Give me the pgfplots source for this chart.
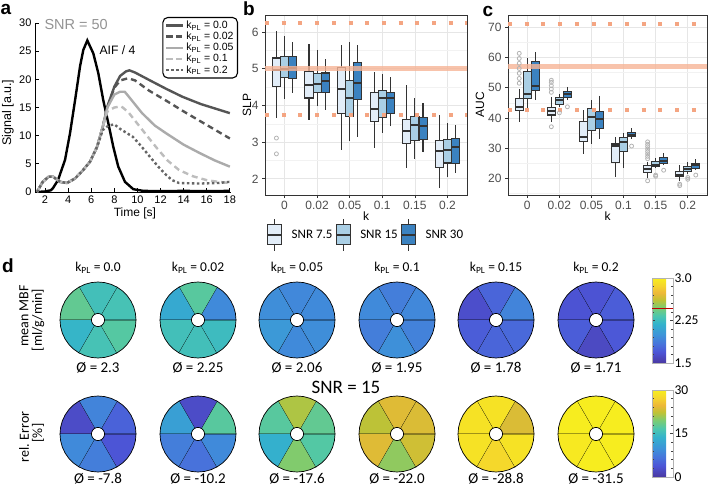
\documentclass[border=0pt]{standalone}
\usepackage{fontspec}
\setmainfont{Liberation Sans}
\newfontfamily\carl{Carlito}
\usepackage{pgfplots}
\usepackage{pgfplotstable}
\pgfplotsset{compat=1.18}
\usepgfplotslibrary{statistics}

\newcommand\fsz[1]{\fontsize{#1}{#1}\selectfont}

\definecolor{boxedge}{HTML}{333333}
\definecolor{tickgray}{HTML}{4D4D4D}
\definecolor{gridmaj}{HTML}{E6E6E6}
\definecolor{gridmin}{HTML}{F2F2F2}
\definecolor{snrA}{HTML}{E2EDF8}
\definecolor{snrB}{HTML}{AACFE5}
\definecolor{snrC}{HTML}{3B82C0}
\definecolor{orangeS}{HTML}{F6B496}
\definecolor{orangeD}{HTML}{F4A582}
\definecolor{outl}{HTML}{B3B3B3}
\definecolor{k00}{HTML}{555555}
\definecolor{k02}{HTML}{555555}
\definecolor{k05}{HTML}{ABABAB}
\definecolor{k10}{HTML}{BDBDBD}
\definecolor{k20}{HTML}{666666}

% parula-like map, slightly muted as in the printed figure
\pgfplotsset{colormap={parula}{
  rgb(0pt)=(0.29,0.22,0.63); rgb(8pt)=(0.30,0.33,0.84);
  rgb(14pt)=(0.28,0.45,0.86); rgb(21pt)=(0.24,0.58,0.85);
  rgb(29pt)=(0.20,0.70,0.80); rgb(35pt)=(0.30,0.78,0.68);
  rgb(41pt)=(0.48,0.80,0.45); rgb(47pt)=(0.76,0.76,0.20);
  rgb(52pt)=(0.93,0.72,0.22); rgb(57pt)=(0.96,0.83,0.18);
  rgb(63pt)=(0.97,0.93,0.12)}}

% ggplot-like panels b and c
\pgfplotsset{gg/.style={
  scale only axis, xmin=-0.6, xmax=5.6,
  xtick={0,...,5}, xticklabels={0,0.02,0.05,0.1,0.15,0.2},
  grid=both, major grid style={draw=gridmaj, line width=0.7pt},
  minor grid style={draw=gridmin, line width=0.45pt},
  axis line style={draw=boxedge, line width=0.8pt},
  tick align=outside, major tick length=3pt, minor tick length=0pt,
  tick style={draw=boxedge, line width=0.7pt}, tick pos=left,
  ticklabel style={font=\fsz{12}, text=tickgray},
  /pgf/number format/assume math mode=true,
  boxplot/draw direction=y, boxplot/box extend=0.25, boxplot/whisker extend=0,
  boxplot/every median/.style={line width=2pt},
  xlabel={k},
  every axis x label/.style={at={(rel axis cs:0.5,0)}, anchor=center, yshift=-21pt, font=\fsz{12}},
}}

% one box: position, fill, lower whisker, lower quartile, median, upper quartile, upper whisker
\newcommand\bx[7]{\addplot[forget plot, boxplot prepared={draw position=#1, lower whisker=#3,
  lower quartile=#4, median=#5, upper quartile=#6, upper whisker=#7},
  fill=#2, draw=boxedge, line width=1.1pt] coordinates {};}
\newcommand\outliers[1]{\addplot[forget plot, only marks, mark=o, mark size=2pt,
  draw=outl, line width=0.8pt] coordinates {#1};}

% generic 60 degree ring sector (angle, radius in pt)
\pgfplotstableread{
a r
0 38
10 38
20 38
30 38
40 38
50 38
60 38
60 6.5
50 6.5
40 6.5
30 6.5
20 6.5
10 6.5
0 6.5
}\sectortab

% bull's eye: centre x, centre y, six segment values (from 0 deg counter-clockwise)
\newcommand\bullseye[8]{%
  \foreach[count=\i from 0] \v in {#3,#4,#5,#6,#7,#8}{%
    \pgfmathsetmacro\segT{(\v-\bmin)/\brange*1000}%
    \pgfmathsetmacro\segA{60*\i}%
    \edef\doplot{\noexpand\addplot[color of colormap={\segT\space of parula}, fill, draw=black, line width=0.7pt]
      table[x expr={#1+\noexpand\thisrow{r}*cos(\noexpand\thisrow{a}+\segA)},
            y expr={#2+\noexpand\thisrow{r}*sin(\noexpand\thisrow{a}+\segA)}] {\noexpand\sectortab};}%
    \doplot
  }%
}

\begin{document}
\begin{tikzpicture}[x=1pt,y=1pt]
\useasboundingbox (0,0) rectangle (708,488);
\coordinate (pa) at (35,296);
\coordinate (pb) at (265,293);
\coordinate (pc) at (508,293);
\coordinate (pd) at (0,0);
\coordinate (cb1) at (652,125);
\coordinate (cb2) at (652,11);

%% ---------------- panel a ----------------
\begin{axis}[at={(pa)}, anchor=south west, scale only axis, width=196pt, height=169pt,
  xmin=1.13, xmax=18.1, ymin=0, ymax=30,
  axis x line*=bottom, axis y line*=left, axis line style={black, line width=1pt},
  xtick={2,4,...,18}, ytick={0,5,...,30},
  tick align=inside, major tick length=4pt, tick style={black, line width=0.8pt},
  ticklabel style={font=\fsz{11}},
  /pgf/number format/assume math mode=true,
  xlabel={Time [s]}, ylabel={Signal [a.u.]},
  every axis x label/.style={at={(rel axis cs:0.51,0)}, anchor=center, yshift=-21pt, font=\fsz{12}},
  every axis y label/.style={at={(rel axis cs:0,0.47)}, xshift=-27pt, rotate=90, anchor=center, font=\fsz{12.5}},
  legend cell align=left,
  legend style={at={(1.036,1.036)}, anchor=north east, draw=black, line width=1.1pt,
    rounded corners=5pt, inner xsep=2pt, inner ysep=1.5pt, row sep=-2pt, font=\fsz{10.5}},
]
\addplot[forget plot, black, line width=2.4pt] coordinates {
  (1.3,0) (2.0,0.1) (2.5,0.3) (2.69,0.7) (3.12,2.1) (3.73,5.7) (4.16,10.4) (4.6,16.3)
  (5.03,22.3) (5.31,25.2) (5.66,26.9) (6.18,24.6) (6.61,21.1) (7.04,16.3) (7.48,12.2)
  (7.91,8.0) (8.34,4.5) (8.92,1.8) (9.64,0.5) (10.5,0.2) (12,0.15) (14,0.2) (16,0.15) (18,0.2)};
\addplot[k00, line width=2.4pt] coordinates {
  (1.3,0) (1.8,1.8) (2.3,2.7) (2.7,2.7) (3.3,1.8) (3.9,1.6) (4.6,2.4) (5.3,3.9) (5.9,5.4)
  (6.5,8.0) (7.0,11.6) (7.4,15.2) (8.0,18.7) (8.5,20.6) (9.0,21.4) (9.3,21.6) (9.8,21.2)
  (11.0,19.9) (12.5,18.3) (13.9,16.9) (15.5,15.6) (18,14.0)};
\addlegendentry{k\textsubscript{PL} = 0.0}
\addplot[k02, line width=2.4pt, dash pattern=on 6pt off 4pt] coordinates {
  (1.3,0) (1.8,1.8) (2.3,2.7) (2.7,2.7) (3.3,1.8) (3.9,1.6) (4.6,2.4) (5.3,3.9) (5.9,5.4)
  (6.5,8.0) (7.0,11.6) (7.4,15.1) (8.0,18.5) (8.5,19.8) (9.2,20.2) (9.8,19.8) (11.0,18.0)
  (12.5,16.2) (14.0,14.3) (15.5,12.5) (17,10.7) (18,9.5)};
\addlegendentry{k\textsubscript{PL} = 0.02}
\addplot[k05, line width=2.4pt] coordinates {
  (1.3,0) (1.8,1.8) (2.3,2.7) (2.7,2.7) (3.3,1.8) (3.9,1.6) (4.6,2.4) (5.3,3.9) (5.9,5.4)
  (6.5,8.0) (7.0,11.6) (7.4,15.0) (8.0,17.3) (8.5,17.8) (8.9,17.8) (9.3,16.8) (10.4,14.0)
  (11.5,11.8) (12.5,10.4) (14.0,8.4) (15.4,6.9) (16.7,5.6) (18,4.5)};
\addlegendentry{k\textsubscript{PL} = 0.05}
\addplot[k10, line width=2.4pt, dash pattern=on 6pt off 4pt] coordinates {
  (1.3,0) (1.8,1.8) (2.3,2.7) (2.7,2.7) (3.3,1.8) (3.9,1.6) (4.6,2.4) (5.3,3.9) (5.9,5.4)
  (6.5,8.0) (7.0,11.6) (7.4,14.3) (8.0,15.0) (8.6,15.2) (9.2,14.2) (10.2,11.6) (11.6,8.0)
  (12.6,5.6) (13.6,3.9) (14.8,2.8) (16,2.1) (17,1.8) (18,1.6)};
\addlegendentry{k\textsubscript{PL} = 0.1}
\addplot[k20, line width=2.4pt, dash pattern=on 2.5pt off 2.5pt] coordinates {
  (1.3,0) (1.8,1.8) (2.3,2.7) (2.7,2.7) (3.3,1.8) (3.9,1.6) (4.6,2.4) (5.3,3.9) (5.9,5.4)
  (6.5,8.0) (7.0,11.0) (7.5,11.8) (8.0,12.0) (8.5,11.2) (9.6,9.8) (10.3,8.2) (11.1,6.2)
  (11.8,4.5) (12.5,3.0) (13.0,2.1) (13.6,1.6) (15.4,1.5) (17,1.6) (18,1.8)};
\addlegendentry{k\textsubscript{PL} = 0.2}
\end{axis}
\node[anchor=west, text=gray!85, font=\fsz{14.5}] at (41,463) {SNR = 50};
\node[anchor=west, font=\fsz{12.2}] at (96,438) {AIF / 4};

%% ---------------- panel b ----------------
\begin{axis}[gg, at={(pb)}, anchor=south west, width=202pt, height=180pt,
  ymin=1.56, ymax=6.46, ytick={2,...,6}, minor ytick={2.5,3.5,4.5,5.5},
  ylabel={SLP},
  every axis y label/.style={at={(rel axis cs:0,0.5)}, xshift=-18pt, rotate=90, anchor=center, font=\fsz{12}},
  legend cell align=left,
  legend style={at={(0.5,-0.222)}, anchor=center, draw=none, fill=none, legend columns=3,
    font=\carl\fsz{13}, /tikz/every even column/.append style={column sep=1pt},
    /tikz/every odd column/.append style={column sep=7pt}},
]
\addlegendimage{legend image code/.code={\draw[boxedge,line width=1pt] (7pt,-16pt)--(7pt,16pt);
  \filldraw[fill=snrA,draw=boxedge,line width=1pt] (0pt,-10pt) rectangle (14pt,10pt);
  \draw[boxedge,line width=1.8pt] (0pt,0pt)--(14pt,0pt);}}
\addlegendentry{SNR 7.5}
\addlegendimage{legend image code/.code={\draw[boxedge,line width=1pt] (7pt,-16pt)--(7pt,16pt);
  \filldraw[fill=snrB,draw=boxedge,line width=1pt] (0pt,-10pt) rectangle (14pt,10pt);
  \draw[boxedge,line width=1.8pt] (0pt,0pt)--(14pt,0pt);}}
\addlegendentry{SNR 15}
\addlegendimage{legend image code/.code={\draw[boxedge,line width=1pt] (7pt,-16pt)--(7pt,16pt);
  \filldraw[fill=snrC,draw=boxedge,line width=1pt] (0pt,-10pt) rectangle (14pt,10pt);
  \draw[boxedge,line width=1.8pt] (0pt,0pt)--(14pt,0pt);}}
\addlegendentry{SNR 30}
% k = 0
\bx{-0.25}{snrA}{3.66}{4.52}{4.97}{5.29}{6.02}
\bx{0}{snrB}{4.16}{4.77}{4.99}{5.32}{5.88}
\bx{0.25}{snrC}{4.34}{4.74}{5.02}{5.32}{5.72}
% k = 0.02
\bx{0.75}{snrA}{3.60}{4.20}{4.56}{4.91}{5.68}
\bx{1}{snrB}{3.97}{4.34}{4.59}{4.86}{5.52}
\bx{1.25}{snrC}{3.88}{4.36}{4.65}{4.88}{5.26}
% k = 0.05
\bx{1.75}{snrA}{2.79}{3.79}{4.45}{5.02}{5.65}
\bx{2}{snrB}{3.02}{3.70}{4.20}{4.68}{5.72}
\bx{2.25}{snrC}{3.15}{4.17}{4.61}{5.17}{5.63}
% k = 0.1
\bx{2.75}{snrA}{2.84}{3.56}{3.91}{4.35}{4.90}
\bx{3}{snrB}{3.26}{3.68}{4.19}{4.41}{4.86}
\bx{3.25}{snrC}{3.43}{3.77}{4.20}{4.35}{4.77}
% k = 0.15
\bx{3.75}{snrA}{2.29}{2.96}{3.31}{3.61}{4.56}
\bx{4}{snrB}{2.54}{3.04}{3.46}{3.70}{4.20}
\bx{4.25}{snrC}{2.72}{3.08}{3.45}{3.67}{4.07}
% k = 0.2
\bx{4.75}{snrA}{1.75}{2.32}{2.75}{3.05}{3.75}
\bx{5}{snrB}{2.05}{2.43}{2.79}{3.08}{3.52}
\bx{5.25}{snrC}{2.16}{2.41}{2.88}{3.11}{3.47}
\outliers{(-0.25,3.11) (-0.25,2.68)}
\addplot[forget plot, draw=orangeS, opacity=0.8, line width=5pt] coordinates {(-0.6,5) (5.6,5)};
\addplot[forget plot, draw=orangeD, line width=4pt, dash pattern=on 4pt off 12.7pt] coordinates {(-0.6,6.25) (5.6,6.25)};
\addplot[forget plot, draw=orangeD, line width=4pt, dash pattern=on 4pt off 12.7pt] coordinates {(-0.6,3.75) (5.6,3.75)};
\end{axis}

%% ---------------- panel c ----------------
\begin{axis}[gg, at={(pc)}, anchor=south west, width=199pt, height=180pt,
  ymin=14.5, ymax=74.1, ytick={20,30,...,70}, minor ytick={15,25,...,65},
  ylabel={AUC},
  every axis y label/.style={at={(rel axis cs:0,0.5)}, xshift=-28pt, rotate=90, anchor=center, font=\fsz{12}},
]
% k = 0
\bx{-0.25}{snrA}{38.7}{42.4}{43.5}{46.5}{49.5}
\bx{0}{snrB}{42.6}{46.5}{48.1}{55.3}{59.7}
\bx{0.25}{snrC}{45.9}{49.0}{50.6}{58.6}{61.9}
% k = 0.02
\bx{0.75}{snrA}{38.7}{41.0}{42.3}{43.5}{47.0}
\bx{1}{snrB}{43.7}{44.6}{45.9}{46.7}{48.1}
\bx{1.25}{snrC}{45.9}{46.8}{47.9}{48.9}{50.3}
% k = 0.05
\bx{1.75}{snrA}{28.0}{32.1}{33.8}{38.7}{42.6}
\bx{2}{snrB}{31.4}{36.0}{40.2}{43.0}{45.9}
\bx{2.25}{snrC}{33.2}{36.6}{39.6}{42.1}{47.4}
% k = 0.1
\bx{2.75}{snrA}{20.3}{25.3}{30.8}{31.4}{33.8}
\bx{3}{snrB}{23.3}{28.8}{32.1}{33.6}{35.1}
\bx{3.25}{snrC}{33.2}{33.8}{34.4}{35.1}{36.6}
% k = 0.15
\bx{3.75}{snrA}{20.0}{22.0}{23.0}{24.2}{25.5}
\bx{4}{snrB}{23.3}{23.8}{24.4}{25.5}{26.6}
\bx{4.25}{snrC}{24.4}{25.0}{25.8}{27.0}{28.3}
% k = 0.2
\bx{4.75}{snrA}{19.2}{20.5}{21.1}{22.2}{24.4}
\bx{5}{snrB}{21.4}{22.2}{23.1}{23.8}{25.5}
\bx{5.25}{snrC}{22.7}{23.3}{24.4}{25.0}{26.4}
\outliers{(-0.25,51.5) (-0.25,53.1) (-0.25,54.8) (-0.25,56.4) (-0.25,58.1) (-0.25,59.7) (-0.25,61.4)
  (0.75,48.5) (0.75,49.6) (0.75,50.7) (0.75,51.8) (0.75,52.5) (0.75,37.1) (1,41.7) (1.25,43.7)
  (3.25,30.7) (3.75,26.5) (3.75,27.3) (3.75,28.1) (3.75,28.9) (3.75,29.7) (3.75,30.5) (3.75,31.3)
  (3.75,32.1) (3.75,19.2) (4,21.1) (4,20.7) (4.25,22.7) (4.75,18.1) (4.75,17.6) (5,20.3) (5,19.7)
  (5.25,21.1)}
\addplot[forget plot, draw=orangeS, opacity=0.8, line width=5pt] coordinates {(-0.6,57) (5.6,57)};
\addplot[forget plot, draw=orangeD, line width=4pt, dash pattern=on 4pt off 12.7pt] coordinates {(-0.6,71.25) (5.6,71.25)};
\addplot[forget plot, draw=orangeD, line width=4pt, dash pattern=on 4pt off 12.7pt] coordinates {(-0.6,42.75) (5.6,42.75)};
\end{axis}

%% ---------------- panel d ----------------
\begin{axis}[at={(pd)}, anchor=south west, scale only axis, width=708pt, height=488pt,
  xmin=0, xmax=708, ymin=0, ymax=488, hide axis]
\def\bmin{1.5}\def\brange{1.5}
\bullseye{98}{168}{2.30}{2.28}{2.40}{2.21}{2.30}{2.36}
\bullseye{198}{168}{1.95}{2.37}{2.13}{2.28}{2.28}{2.25}
\bullseye{297}{168}{1.95}{1.94}{1.97}{2.03}{1.95}{1.97}
\bullseye{397}{168}{1.94}{1.89}{1.95}{1.89}{1.98}{1.91}
\bullseye{496}{168}{1.92}{1.77}{1.65}{1.73}{1.77}{1.79}
\bullseye{596}{168}{1.73}{1.68}{1.68}{1.73}{1.62}{1.71}
\def\bmin{0}\def\brange{30}
\bullseye{98}{54}{5.1}{8.4}{2.7}{9.0}{7.8}{3.9}
\bullseye{198}{54}{17.4}{2.7}{11.4}{7.8}{6.6}{9.0}
\bullseye{297}{54}{18.0}{21.6}{17.4}{13.5}{19.8}{17.1}
\bullseye{397}{54}{23.7}{24.0}{22.2}{24.0}{20.4}{23.1}
\bullseye{496}{54}{23.7}{28.8}{28.8}{28.8}{27.6}{28.8}
\bullseye{596}{54}{30}{30}{30}{29.5}{30}{30}
\end{axis}

% colour bars
\begin{axis}[at={(cb1)}, anchor=south west, scale only axis, width=21pt, height=85pt,
  hide axis, xmin=0, xmax=1, ymin=0, ymax=1,
  colormap name=parula, point meta min=1.5, point meta max=3,
  colorbar, colorbar shift/.style={xshift=0pt},
  colorbar style={at={(parent axis.south west)}, anchor=south west, scale only axis,
    width=21pt, height=85pt, ytick={1.5,2.25,3}, yticklabels={1.5,2.25,3.0},
    minor y tick num=4, tick align=inside, major tick length=3pt, minor tick length=2pt,
    tick style={draw=black!75, line width=0.6pt}, axis line style={draw=gray!60, line width=0.6pt},
    yticklabel style={font=\carl\fsz{13.5}, xshift=-2pt},
    extra y ticks={2.46}, extra y tick labels={},
    extra y tick style={grid=major, major grid style={draw=red!75!black, line width=1.2pt}, major tick length=0pt}}]
\addplot[draw=none] coordinates {(0.5,0.5)};
\end{axis}
\begin{axis}[at={(cb2)}, anchor=south west, scale only axis, width=21pt, height=87pt,
  hide axis, xmin=0, xmax=1, ymin=0, ymax=1,
  colormap name=parula, point meta min=0, point meta max=30,
  colorbar, colorbar shift/.style={xshift=0pt},
  colorbar style={at={(parent axis.south west)}, anchor=south west, scale only axis,
    width=21pt, height=87pt, ytick={0,15,30}, yticklabels={0,15,30},
    minor y tick num=4, tick align=inside, major tick length=3pt, minor tick length=2pt,
    tick style={draw=black!75, line width=0.6pt}, axis line style={draw=gray!60, line width=0.6pt},
    yticklabel style={font=\carl\fsz{13.5}, xshift=-2pt}}]
\addplot[draw=none] coordinates {(0.5,0.5)};
\end{axis}

% texts of panel d
\foreach \cx/\k in {98/0.0, 198/0.02, 297/0.05, 397/0.1, 496/0.15, 596/0.2}
  \node[font=\carl\fsz{13.5}] at (\cx,220) {k\textsubscript{PL} = \k};
\foreach \cx/\m in {98/2.3, 198/2.25, 297/2.06, 397/1.95, 496/1.78, 596/1.71}
  \node[font=\carl\fsz{15}] at (\cx,120) {Ø = \m};
\foreach \cx/\m in {98/-7.8, 198/-10.2, 297/-17.6, 397/-22.0, 496/-28.8, 596/-31.5}
  \node[font=\carl\fsz{15}] at (\cx,9) {Ø = \m};
\node[font=\carl\fsz{19}] at (346,101) {SNR = 15};
\node[font=\carl\fsz{14}, rotate=90] at (24,172) {mean MBF};
\node[font=\carl\fsz{14}, rotate=90] at (38,168) {[ml/g/min]};
\node[font=\carl\fsz{14}, rotate=90] at (24,51) {rel. Error};
\node[font=\carl\fsz{14}, rotate=90] at (38,55) {[\%]};

% panel letters
\node[font=\bfseries\fsz{19}] at (6,479) {a};
\node[font=\bfseries\fsz{19}] at (249,479) {b};
\node[font=\bfseries\fsz{19}] at (488,477) {c};
\node[font=\bfseries\fsz{19}] at (8,222) {d};
\end{tikzpicture}
\end{document}
